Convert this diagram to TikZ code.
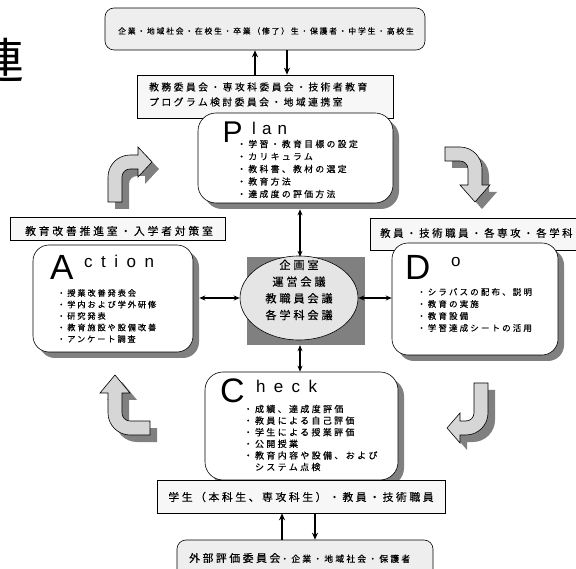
\documentclass[tikz,border=0pt]{standalone}
\usepackage{fontspec}
\newfontfamily\jpn[FakeBold=0.25]{Noto Sans CJK JP}
\newfontfamily\jprn{Noto Sans CJK JP}
\newfontfamily\lat{Liberation Sans}
\usetikzlibrary{arrows.meta,shapes.geometric,shadows}
\newcommand\setfs[2]{\fontsize{#1}{#2}\selectfont}
\newcommand\jf[3]{\jpn\fontsize{#1}{#2}\selectfont\addfontfeature{LetterSpace=#3}}
\newcommand\bentpath[3]{(0,0) -- (0,{-#1+22}) .. controls (0,{-#1+9.9}) and (9.9,{-#1}) .. (22,{-#1}) -- (#2,{-#1}) -- (#2,{-#1-8}) -- (#3,{-#1+7}) -- (#2,{-#1+22}) -- (#2,{-#1+14}) -- (22,{-#1+14}) .. controls (17.6,{-#1+14}) and (14,{-#1+17.6}) .. (14,{-#1+22}) -- (14,0) -- cycle}
\definecolor{shd}{gray}{0.5}
\tikzset{
  box/.style={draw, line width=0.6pt, inner sep=0pt},
  rbox/.style={box, rounded corners=#1},
  shadowed/.style={drop shadow={shadow xshift=6pt, shadow yshift=-6pt, fill=shd, opacity=1}},
  jt/.style={inner sep=0pt, text=black},
  big/.style={inner sep=0pt, anchor=base west},
  barrow/.style={draw, line width=0.6pt, fill=gray!32},
  bshadow/.style={fill=shd},
  sarrow/.style={-{Stealth[length=7pt,width=6pt]}, line width=1.3pt},
  dbl/.style={{Stealth[length=6pt,width=5pt]}-{Stealth[length=6pt,width=5pt]}, line width=1.1pt},
}
\begin{document}
\begin{tikzpicture}[x=1pt,y=-1pt]
\useasboundingbox (0,0) rectangle (576,569);

% partially visible character at top-left
\node[jt, anchor=east, font=\jprn\setfs{48}{48}] (ren) at (25,60) {連};

% top box
\node[rbox=9pt, fill=gray!13, minimum width=320pt, minimum height=42pt] (top) at (265,29) {};
\node[jt, font=\jf{7.8}{9}{23}] (ttop) at (266,31) {企業・地域社会・在校生・卒業（修了）生・保護者・中学生・高校生};

% committee box
\node[box, fill=gray!6, minimum width=256pt, minimum height=43pt] (comm) at (265,96.5) {};
\node[jt, anchor=west, align=left, font=\jf{9.8}{15}{25}] (tcomm) at (149,94.5) {教務委員会・専攻科委員会・技術者教育\\プログラム検討委員会・地域連携室};

% Plan box
\node[rbox=18pt, fill=white, shadowed, minimum width=195pt, minimum height=90pt] (plan) at (295.5,158) {};
\node[big, font=\lat\setfs{30}{30}] (bigP) at (222.5,143) {P};
\node[big, font=\lat\setfs{17}{17}\addfontfeature{LetterSpace=36}] (wlan) at (252,135) {lan};
\node[jt, anchor=west, align=left, font=\jf{8.8}{12.5}{27}] (tplan) at (237,169) {・学習・教育目標の設定\\・カリキュラム\\・教科書、教材の選定\\・教育方法\\・達成度の評価方法};

% Action label + box
\node[box, fill=gray!6, minimum width=215pt, minimum height=23pt] (actlab) at (117.5,228.5) {};
\node[jt, font=\jf{10.8}{12}{26}] (tactlab) at (119,231) {教育改善推進室・入学者対策室};
\node[rbox=16pt, fill=white, shadowed, minimum width=160pt, minimum height=107pt] (act) at (113,298.5) {};
\node[big, font=\lat\setfs{35}{35}] (bigA) at (50,280) {A};
\node[big, font=\lat\setfs{17}{17}\addfontfeature{LetterSpace=50}] (wact) at (84,268) {ction};
\node[jt, anchor=west, align=left, font=\jf{8.2}{11.5}{23}] (tact) at (57,316) {・授業改善発表会\\・学内および学外研修\\・研究発表\\・教育施設や設備改善\\・アンケート調査};

% Do label + box
\node[box, fill=gray!6, minimum width=230pt, minimum height=32pt] (dolab) at (485,234) {};
\node[jt, anchor=west, font=\jf{10.4}{12}{25}] (tdolab) at (380,233) {教員・技術職員・各専攻・各学科};
\node[rbox=16pt, fill=white, shadowed, minimum width=166pt, minimum height=112pt] (do) at (475,299) {};
\node[big, font=\lat\setfs{35}{35}] (bigD) at (405,280) {D};
\node[big, font=\lat\setfs{17}{17}] (wdo) at (451,267) {o};
\node[jt, anchor=west, align=left, font=\jf{8.5}{12}{25}] (tdo) at (417,310) {・シラバスの配布、説明\\・教育の実施\\・教育設備\\・学習達成シートの活用};

% center
\node[inner sep=0pt, fill=shd, minimum width=118pt, minimum height=88pt] (ctr) at (306,301) {};
\node[ellipse, draw, line width=0.6pt, fill=gray!20, inner sep=0pt, minimum width=118pt, minimum height=84pt] (ell) at (299,298) {};
\node[jt, align=center, font=\jf{11.2}{16.7}{25}] (tctr) at (299,290) {企画室\\運営会議\\教職員会議\\各学科会議};

% Check box
\node[rbox=18pt, fill=white, shadowed, minimum width=193pt, minimum height=108pt] (chk) at (301.5,426) {};
\node[big, font=\lat\setfs{34}{34}] (bigC) at (220,402.5) {C};
\node[big, font=\lat\setfs{17}{17}\addfontfeature{LetterSpace=49}] (wchk) at (256,393) {heck};
\node[jt, anchor=west, align=left, font=\jf{9}{11.6}{26}] (tchk) at (243.5,438) {・成績、達成度評価\\・教員による自己評価\\・学生による授業評価\\・公開授業\\・教育内容や設備、および\\　システム点検};

% students box
\node[box, fill=gray!6, minimum width=288pt, minimum height=33pt] (stu) at (301,496.5) {};
\node[jt, font=\jf{10.8}{12}{24}] (tstu) at (301,497) {学生（本科生、専攻科生）・教員・技術職員};

% bottom box
\node[rbox=9pt, fill=gray!13, minimum width=256pt, minimum height=50pt] (bot) at (305,565) {};
\node[jt, anchor=west, font=\jf{10.8}{12}{24}] (tbot) at (189,558) {外部評価委員会{\jf{8.8}{10}{25}・企業・地域社会・保護者}};

% arrows top / bottom
\coordinate (xa) at (255,0);
\coordinate (xb) at (287,0);
\coordinate (xc) at (300,0);
\coordinate (xd) at (282,0);
\coordinate (xe) at (315,0);
\draw[sarrow] (xa |- comm.north) -- (xa |- top.south);
\draw[sarrow] (xb |- top.south) -- (xb |- comm.north);
\draw[sarrow] (xd |- bot.north) -- (xd |- stu.south);
\draw[sarrow] (xe |- stu.south) -- (xe |- bot.north);

% center connectors
\draw[dbl] ([yshift=-6pt]xc |- plan.south) -- (xc |- ctr.north);
\draw[dbl] (xc |- ctr.south) -- (xc |- chk.north);
\draw[dbl] ([xshift=6pt]act.east |- ell.west) -- (ell.west);
\draw[dbl] (ell.east) -- (ell.east -| do.west);

% bent block arrows
\begin{scope}[shift={(115,209)}] \fill[bshadow] \bentpath{47}{30}{44}; \end{scope}
\begin{scope}[shift={(108,202)}] \filldraw[barrow] \bentpath{47}{30}{44}; \end{scope}
\begin{scope}[shift={(452,154)},rotate=-90] \fill[bshadow] \bentpath{37}{38}{55}; \end{scope}
\begin{scope}[shift={(445,147)},rotate=-90] \filldraw[barrow] \bentpath{37}{38}{55}; \end{scope}
\begin{scope}[shift={(495,390)},rotate=180] \fill[bshadow] \bentpath{52}{28}{41}; \end{scope}
\begin{scope}[shift={(488,383)},rotate=180] \filldraw[barrow] \bentpath{52}{28}{41}; \end{scope}
\begin{scope}[shift={(157,442)},rotate=90] \fill[bshadow] \bentpath{42}{42}{60}; \end{scope}
\begin{scope}[shift={(150,435)},rotate=90] \filldraw[barrow] \bentpath{42}{42}{60}; \end{scope}
\end{tikzpicture}
\end{document}
